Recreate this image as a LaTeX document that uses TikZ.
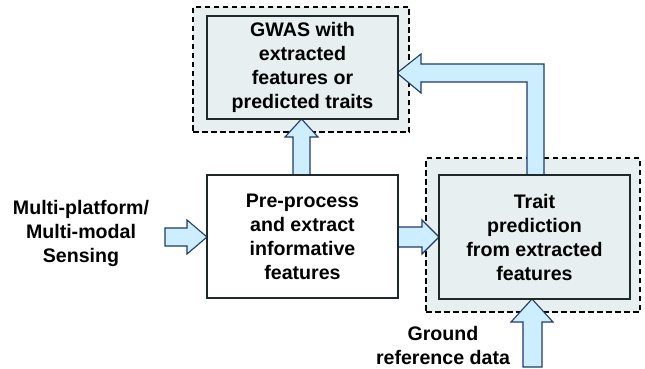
\documentclass[tikz,border=0pt]{standalone}
\usepackage{fontspec}
\setmainfont{Liberation Sans}
\usetikzlibrary{calc}
\definecolor{boxfill}{HTML}{E7EFF0}
\definecolor{boxline}{HTML}{1E2A2A}
\definecolor{arrfill}{HTML}{CCEEFF}
\definecolor{arrline}{HTML}{1F3A6A}
\begin{document}
\begin{tikzpicture}[x=1pt,y=-1pt,
  txt/.style={font=\fontsize{19.6}{24}\selectfont\bfseries, align=center, text=black},
  outerbox/.style={draw=black, dash pattern=on 5.5pt off 3.5pt, line width=1.1pt, fill=boxfill, minimum width=#1, inner sep=0pt},
  procbox/.style={txt, draw=boxline, line width=1.4pt, minimum width=191pt, inner sep=0pt},
  blockarrow/.style={draw=arrline, line width=1.1pt, fill=arrfill, line join=miter}
]
\useasboundingbox (0,0) rectangle (645,369);
% outer dashed boxes
\node[outerbox=216pt, minimum height=125pt] (gwasO) at (301,69.5) {};
\node[outerbox=214pt, minimum height=154pt] (trO) at (533,235) {};
% block arrows
\coordinate (inTip) at (207,237);
\draw[blockarrow] (165,228) -- (187,228) -- (187,220) -- (inTip) -- (187,254) -- (187,246) -- (165,246) -- cycle;
\coordinate (midTip) at (439,237);
\draw[blockarrow] (398,227) -- (422,227) -- (422,220) -- (midTip) -- (422,254) -- (422,247) -- (398,247) -- cycle;
\coordinate (upTip) at (301.5,119);
\draw[blockarrow] (293,175) -- (293,137) -- (285,137) -- (upTip) -- (318,137) -- (310,137) -- (310,175) -- cycle;
\coordinate (bentTip) at (397,73);
\draw[blockarrow] (527,175) -- (527,82) -- (421,82) -- (421,93) -- (bentTip) -- (421,54) -- (421,64) -- (544,64) -- (544,175) -- cycle;
\coordinate (botTip) at (532,299);
\draw[blockarrow] (523,367) -- (523,322) -- (511,322) -- (botTip) -- (553,322) -- (542,322) -- (542,367) -- cycle;
% process boxes
\node[procbox, fill=boxfill, minimum height=103pt] (gwas) at (302.5,67.5) {GWAS with\\extracted\\features or\\predicted traits};
\node[procbox, fill=white, minimum height=123pt] (pre) at (302.5,236.5) {Pre-process\\and extract\\informative\\features};
\node[procbox, fill=boxfill, minimum height=124pt] (tr) at (534.5,237) {Trait\\prediction\\from extracted\\features};
% labels
\node[txt] (sens) at (81,233) {Multi-platform/\\Multi-modal\\Sensing};
\node[txt] (ground) at (443,345) {Ground\\reference data};
\end{tikzpicture}
\end{document}
